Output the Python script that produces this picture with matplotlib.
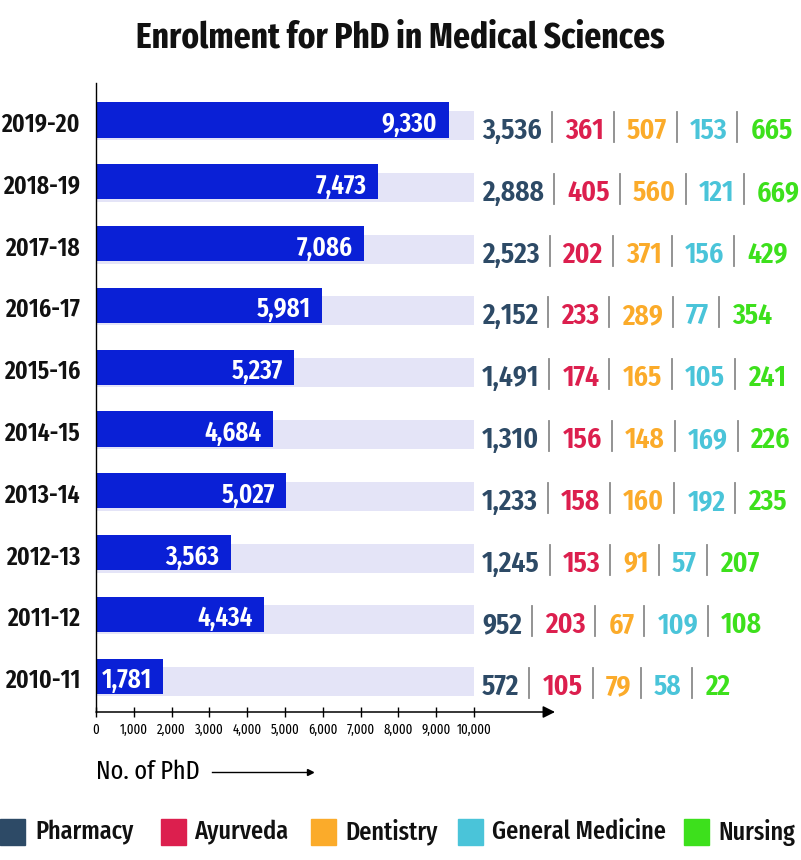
import matplotlib
matplotlib.use("Agg")
import matplotlib.pyplot as plt
from matplotlib import font_manager
from matplotlib.patches import Rectangle
from matplotlib.lines import Line2D

# ---------------- data ----------------
years = ["2019-20", "2018-19", "2017-18", "2016-17", "2015-16",
         "2014-15", "2013-14", "2012-13", "2011-12", "2010-11"]
totals = [9330, 7473, 7086, 5981, 5237, 4684, 5027, 3563, 4434, 1781]
pharmacy = [3536, 2888, 2523, 2152, 1491, 1310, 1233, 1245, 952, 572]
ayurveda = [361, 405, 202, 233, 174, 156, 158, 153, 203, 105]
dentistry = [507, 560, 371, 289, 165, 148, 160, 91, 67, 79]
general_medicine = [153, 121, 156, 77, 105, 169, 192, 57, 109, 58]
nursing = [665, 669, 429, 354, 241, 226, 235, 207, 108, 22]
series_names = ["Pharmacy", "Ayurveda", "Dentistry", "General Medicine", "Nursing"]
series_colors = ["#2d4a66", "#dc1f4e", "#fbab2a", "#4ac4d9", "#3de01c"]
series_values = [pharmacy, ayurveda, dentistry, general_medicine, nursing]
xticks = list(range(0, 10001, 1000))
bg_max = 10000

# ---------------- fonts ----------------
avail = {f.name for f in font_manager.fontManager.ttflist}
FONT = "DejaVu Sans"
for cand in ["Fira Sans Extra Condensed", "Fira Sans Condensed", "Roboto Condensed",
             "Barlow Semi Condensed", "Roboto"]:
    if cand in avail:
        FONT = cand
        break
plt.rcParams["font.family"] = [FONT, "DejaVu Sans"]

W, H = 801, 860
fig = plt.figure(figsize=(W / 100, H / 100), dpi=100)

# axes placement in pixels
x0_px, x1_px = 96, 555
ytop_px, ybot_px = 83, 712
ax = fig.add_axes([x0_px / W, 1 - ybot_px / H, (x1_px - x0_px) / W, (ybot_px - ytop_px) / H])
px_per_unit_x = 378 / 10000
ax.set_xlim(0, (x1_px - x0_px) / px_per_unit_x)
row0, row_sp = 120, 61.8
ax.set_ylim((ybot_px - row0) / row_sp, (ytop_px - row0) / row_sp)
unit_per_px_y = 1 / row_sp

ypos = list(range(len(years)))
# background bars (slightly offset down)
ax.barh([y + 0.09 for y in ypos], [bg_max] * len(years), height=0.47,
        color="#e4e4f7", zorder=1)
ax.barh(ypos, totals, height=0.57, color="#0a20d6", zorder=2)

for y, v in zip(ypos, totals):
    ax.text(v - 300, y + 12 * unit_per_px_y, f"{v:,}", color="white", ha="right",
            va="baseline", fontsize=19.5, fontweight=600, zorder=3)

# year labels
ax.set_yticks([])
for y, lab in zip(ypos, years):
    ax.text(-16 / px_per_unit_x, y + 12 * unit_per_px_y, lab, ha="right", va="baseline",
            fontsize=18.5, fontweight=600, color="#111111", clip_on=False)

ax.set_xticks(xticks)
ax.set_xticklabels([f"{t:,}" for t in xticks], fontsize=10)
ax.tick_params(axis="x", direction="inout", length=7, width=1, pad=4, colors="black")
for s in ["top", "right", "bottom"]:
    ax.spines[s].set_visible(False)
ax.spines["left"].set_linewidth(1)
ax.annotate("", xy=(1.0, 0), xycoords="axes fraction", xytext=(0, 0),
            arrowprops=dict(arrowstyle="-|>", color="black", lw=1.1,
                            mutation_scale=18, shrinkA=0, shrinkB=0))

# title
fig.text(400 / W, 1 - 38 / H, "Enrolment for PhD in Medical Sciences",
         ha="center", va="center", fontsize=26, fontweight="bold", color="#111111")

# x label with arrow
fig.text(96 / W, 1 - 772 / H, "No. of PhD", ha="left", va="center", fontsize=19)
fig.add_artist(Line2D([212 / W, 310 / W], [1 - 772 / H, 1 - 772 / H], color="black", lw=1))
fig.add_artist(Line2D([310 / W], [1 - 772 / H], marker=">", color="black", markersize=5,
                      transform=fig.transFigure))

# right-side breakdown numbers
fig.canvas.draw()
renderer = fig.canvas.get_renderer()
gap_l, gap_r = 10, 13
for i, y in enumerate(ypos):
    base_px = row0 + row_sp * y + 19
    xcur = 482
    for k, (vals, col) in enumerate(zip(series_values, series_colors)):
        t = fig.text(xcur / W, 1 - base_px / H, f"{vals[i]:,}", color=col, ha="left",
                     va="baseline", fontsize=21.5, fontweight=600)
        bb = t.get_window_extent(renderer)
        xcur = xcur + bb.width
        if k < len(series_values) - 1:
            xs = xcur + gap_l
            fig.add_artist(Line2D([xs / W, xs / W], [1 - (base_px - 27) / H, 1 - (base_px + 3) / H],
                                  color="#8a8a8a", lw=1.3))
            xcur = xs + gap_r

# legend
leg_sq = [(0, 35), (161, 194), (311, 345), (458, 492), (684, 718)]
for (sx, tx), name, col in zip(leg_sq, series_names, series_colors):
    fig.add_artist(Rectangle((sx / W, 1 - 845 / H), 25 / W, 26 / H, color=col,
                             transform=fig.transFigure))
    fig.text(tx / W, 1 - 832 / H, name, ha="left", va="center", fontsize=19,
             fontweight=500, color="#111111")

fig.savefig("out.png", dpi=100)
